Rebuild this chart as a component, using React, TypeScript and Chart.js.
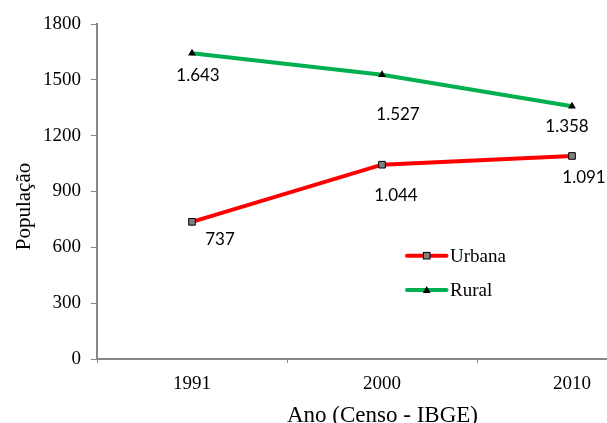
import React, { useEffect, useRef } from "react";
import { Chart, registerables } from "chart.js";

Chart.register(...registerables);

const categories = ["1991", "2000", "2010"];
const urbana = [737, 1044, 1091];
const rural = [1643, 1527, 1358];
const yTicks = [0, 300, 600, 900, 1200, 1500, 1800];
const seriesNames = ["Urbana", "Rural"];

const SERIF = '"Liberation Serif", "Times New Roman", serif';
const AXIS_COLOR = "#868686";
const RED = "#FF0000";
const GREEN = "#00B050";

function fmt(v: number): string {
  const s = String(Math.round(v));
  return s.replace(/\B(?=(\d{3})+(?!\d))/g, ".");
}

// text offsets (px) of the data labels, relative to their point
const labelOffsets: number[][][] = [
  [
    [28, 18],
    [14, 31],
    [12, 22],
  ],
  [
    [6, 22],
    [16, 40],
    [-5, 20],
  ],
];

const dataLabelPlugin = {
  id: "dataLabels",
  afterDatasetsDraw(chart: any) {
    const ctx = chart.ctx;
    ctx.save();
    ctx.font = '17px Lato, "Open Sans", sans-serif';
    ctx.fillStyle = "#000";
    ctx.textAlign = "center";
    ctx.textBaseline = "middle";
    chart.data.datasets.forEach((ds: any, di: number) => {
      const meta = chart.getDatasetMeta(di);
      meta.data.forEach((pt: any, i: number) => {
        const off = labelOffsets[di][i];
        ctx.fillText(fmt(ds.data[i]), pt.x + off[0], pt.y + off[1]);
      });
    });
    ctx.restore();
  },
};

function drawMarker(ctx: CanvasRenderingContext2D, style: string, x: number, y: number) {
  ctx.save();
  if (style === "rect") {
    ctx.fillStyle = "#808080";
    ctx.strokeStyle = "#000";
    ctx.lineWidth = 1;
    ctx.fillRect(x - 3.3, y - 3.3, 6.6, 6.6);
    ctx.strokeRect(x - 3.3, y - 3.3, 6.6, 6.6);
  } else {
    ctx.fillStyle = "#000";
    ctx.beginPath();
    ctx.moveTo(x, y - 4);
    ctx.lineTo(x + 3.8, y + 3);
    ctx.lineTo(x - 3.8, y + 3);
    ctx.closePath();
    ctx.fill();
  }
  ctx.restore();
}

// positions below are canvas coordinates (canvas placed at page x=8, y=8)
const legendTitlesPlugin = {
  id: "legendTitles",
  afterDraw(chart: any) {
    const ctx: CanvasRenderingContext2D = chart.ctx;
    const items = [
      { label: seriesNames[0], color: RED, style: "rect", y: 247.7 },
      { label: seriesNames[1], color: GREEN, style: "triangle", y: 282 },
    ];
    ctx.save();
    items.forEach((it) => {
      ctx.strokeStyle = it.color;
      ctx.lineWidth = 4;
      ctx.lineCap = "round";
      ctx.beginPath();
      ctx.moveTo(399, it.y);
      ctx.lineTo(438.5, it.y);
      ctx.stroke();
      drawMarker(ctx, it.style, 418.7, it.y);
      ctx.fillStyle = "#000";
      ctx.font = "19px " + SERIF;
      ctx.textAlign = "left";
      ctx.textBaseline = "middle";
      ctx.fillText(it.label, 442, it.y + 1);
    });

    // axis titles
    ctx.fillStyle = "#000";
    ctx.font = "23px " + SERIF;
    ctx.textAlign = "center";
    ctx.textBaseline = "alphabetic";
    ctx.fillText("Ano (Censo - IBGE)", 374.5, 413.5);

    ctx.save();
    ctx.translate(22, 198.5);
    ctx.rotate(-Math.PI / 2);
    ctx.font = "21px " + SERIF;
    ctx.textAlign = "center";
    ctx.textBaseline = "alphabetic";
    ctx.fillText("População", 0, 0);
    ctx.restore();
    ctx.restore();
  },
};

export default function App() {
  const ref = useRef<HTMLCanvasElement | null>(null);

  useEffect(() => {
    document.body.style.overflow = "hidden";
    document.documentElement.style.overflow = "hidden";
    document.body.style.margin = "0";
    const canvas = ref.current;
    if (!canvas) return;
    const chart = new Chart(canvas, {
      type: "line",
      data: {
        labels: categories,
        datasets: [
          {
            label: seriesNames[0],
            data: urbana,
            borderColor: RED,
            backgroundColor: "#808080",
            borderWidth: 4,
            pointStyle: "rect",
            pointRadius: 4.7,
            pointBackgroundColor: "#808080",
            pointBorderColor: "#000",
            pointBorderWidth: 1,
            tension: 0,
            fill: false,
          },
          {
            label: seriesNames[1],
            data: rural,
            borderColor: GREEN,
            backgroundColor: "#000",
            borderWidth: 4,
            pointStyle: "triangle",
            pointRadius: 4.5,
            pointBackgroundColor: "#000",
            pointBorderColor: "#000",
            pointBorderWidth: 0,
            tension: 0,
            fill: false,
          },
        ],
      },
      options: {
        responsive: false,
        animation: false,
        devicePixelRatio: 1,
        layout: { padding: { top: 16, right: 11, left: 0, bottom: 0 } },
        plugins: {
          legend: { display: false },
          tooltip: { enabled: false },
          title: { display: false },
        },
        scales: {
          x: {
            type: "category",
            offset: true,
            grid: {
              display: true,
              offset: true,
              drawOnChartArea: false,
              drawTicks: true,
              tickLength: 4,
              color: AXIS_COLOR,
              lineWidth: 1,
            },
            border: { display: true, color: AXIS_COLOR, width: 2 },
            ticks: {
              color: "#000",
              font: { family: SERIF, size: 19 },
              padding: 10,
              maxRotation: 0,
            },
            afterFit: (s: any) => {
              s.height = 64;
              s.paddingLeft = 0;
              s.paddingRight = 0;
            },
          },
          y: {
            type: "linear",
            min: 0,
            max: 1800,
            afterBuildTicks: (s: any) => {
              s.ticks = yTicks.map((v) => ({ value: v }));
            },
            grid: {
              display: true,
              drawOnChartArea: false,
              drawTicks: true,
              tickLength: 6,
              color: AXIS_COLOR,
              lineWidth: 1,
            },
            border: { display: true, color: AXIS_COLOR, width: 2 },
            ticks: {
              color: "#000",
              font: { family: SERIF, size: 19 },
              padding: 10,
              callback: (v: any) => String(v),
            },
            afterFit: (s: any) => {
              s.width = 89;
              s.paddingTop = 0;
              s.paddingBottom = 0;
            },
          },
        },
      },
      plugins: [dataLabelPlugin, legendTitlesPlugin],
    } as any);
    return () => chart.destroy();
  }, []);

  return (
    <div style={{ padding: "8px 0 0 8px", width: 670, height: 415, overflow: "hidden" }}>
      <canvas
        ref={ref}
        width={670}
        height={415}
        style={{ display: "block", width: 670, height: 415 }}
      />
    </div>
  );
}
